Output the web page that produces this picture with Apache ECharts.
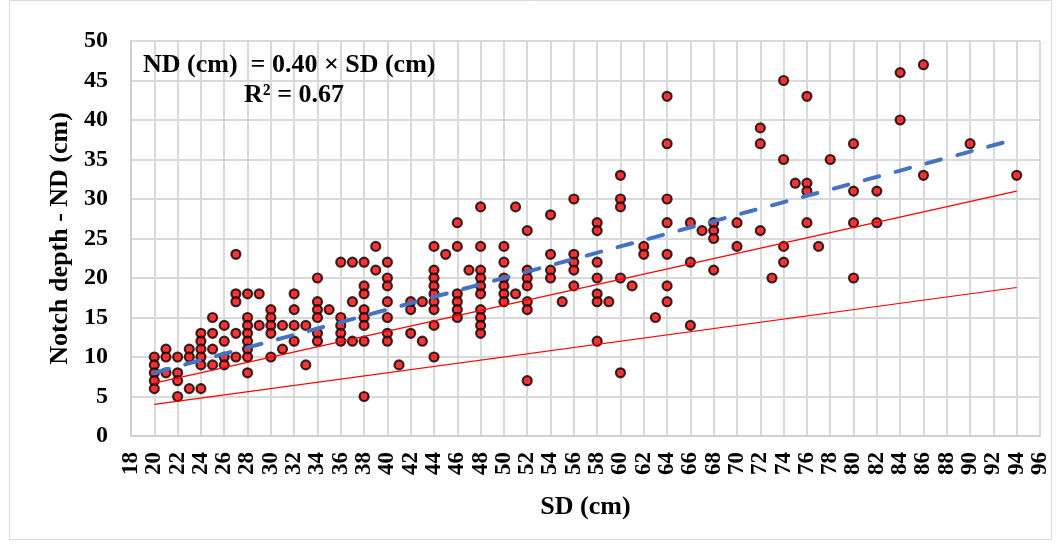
<!DOCTYPE html>
<html>
<head>
<meta charset="utf-8">
<script src="https://cdn.jsdelivr.net/npm/echarts@6/dist/echarts.min.js"></script>
<style>
html,body{margin:0;padding:0;background:#fff;}
#chart{width:1061px;height:548px;}
</style>
</head>
<body>
<div id="chart"></div>
<script>
// SD (cm) values and the ND (cm) values observed at each SD
const sdGroups = [20,21,22,23,24,25,26,27,28,29,30,31,32,33,34,35,36,37,38,39,40,41,42,43,44,45,46,47,48,50,51,52,54,55,56,58,59,60,61,62,63,64,66,67,68,70,72,73,74,75,76,77,78,80,82,84,86,90,94];
const ndGroups = [
  [10,9,8,7,6],[11,10,8],[10,8,7,5],[11,10,6],[13,12,11,10,9,6],[15,13,11,9],[14,12,10,9],
  [23,18,17,13,10],[18,15,14,13,12,11,10,8],[18,14],[16,15,14,13,10],[14,11],[18,16,14,12],
  [14,9],[20,17,16,15,13,12],[16],[22,15,14,13,12],[22,17,12],[22,19,18,16,15,14,12,5],
  [24,21],[22,20,19,17,15,13,12],[9],[17,16,13],[17,12],[24,21,20,19,18,17,16,14,10],[23],
  [27,24,18,17,16,15],[21],[29,24,21,20,19,18,16,15,14,13],[24,22,20,19,18,17],[29,18],
  [26,21,20,19,17,16,7],[28,23,21,20],[17],[30,23,22,21,19],[27,26,22,20,18,17,12],[17],
  [33,30,29,20,8],[19],[24,23],[15],[43,37,30,27,23,19,17],[27,22,14],[26],[27,26,25,21],
  [27,24],[39,37,26],[20],[45,35,24,22],[32],[43,32,31,27],[24],[35],[37,31,27,20],[31,27],
  [46,40],[47,33],[37],[33]
];
// Trend line ND = 0.40 x SD and the two red reference lines
const lineSD = [20, 94];
const trendND = [8.0, 37.6];
const upperND = [6.7, 31.0];
const lowerND = [4.0, 18.8];
const yTicks = {min: 0, max: 50, interval: 5};
const xTicks = {min: 18, max: 96, interval: 2};

const points = [];
sdGroups.forEach((sd, i) => ndGroups[i].forEach(v => points.push([sd, v])));
const pair = arr => lineSD.map((x, i) => [x, arr[i]]);

const font = 'Liberation Serif, Times New Roman, serif';
const chart = echarts.init(document.getElementById('chart'), null, {renderer: 'canvas'});
chart.setOption({
  animation: false,
  backgroundColor: '#fff',
  grid: {left: 131, right: 21, top: 41, bottom: 112, containLabel: false},
  xAxis: {
    type: 'value', min: xTicks.min, max: xTicks.max, interval: xTicks.interval,
    name: 'SD (cm)', nameLocation: 'middle', nameGap: 58,
    nameTextStyle: {fontFamily: font, fontWeight: 'bold', fontSize: 26, color: '#000'},
    axisLine: {show: true, lineStyle: {color: '#d0d0d0', width: 2}},
    axisTick: {show: false},
    axisLabel: {rotate: 90, margin: 16, fontFamily: font, fontWeight: 'bold', fontSize: 23, color: '#000'},
    splitLine: {show: true, lineStyle: {color: '#d9d9d9', width: 2}}
  },
  yAxis: {
    type: 'value', min: yTicks.min, max: yTicks.max, interval: yTicks.interval,
    name: 'Notch depth - ND (cm)', nameLocation: 'middle', nameGap: 58,
    nameTextStyle: {fontFamily: font, fontWeight: 'bold', fontSize: 26, color: '#000'},
    axisLine: {show: true, lineStyle: {color: '#d0d0d0', width: 2}},
    axisTick: {show: false},
    axisLabel: {margin: 23, fontFamily: font, fontWeight: 'bold', fontSize: 24, color: '#000'},
    splitLine: {show: true, lineStyle: {color: '#d9d9d9', width: 2}}
  },
  series: [
    {
      type: 'scatter', data: points, symbol: 'circle', symbolSize: 9, z: 3,
      itemStyle: {color: '#ff0000', borderColor: '#000', borderWidth: 2.2}
    },
    {
      type: 'line', data: pair(upperND), symbol: 'none', z: 4,
      lineStyle: {color: '#ff0000', width: 1.2}
    },
    {
      type: 'line', data: pair(lowerND), symbol: 'none', z: 4,
      lineStyle: {color: '#ff0000', width: 1.2}
    },
    {
      type: 'line', data: pair(trendND), symbol: 'none', z: 5,
      lineStyle: {color: '#4472c4', width: 4, type: [15, 17], cap: 'round'}
    }
  ],
  graphic: [
    {type: 'rect', shape: {x: 9.5, y: 0.5, width: 1042, height: 539}, style: {fill: 'none', stroke: '#d9d9d9', lineWidth: 1}, silent: true},
    {type: 'text', x: 143, y: 65, style: {text: 'ND (cm)  = 0.40 × SD (cm)', font: 'bold 26px ' + font, fill: '#000', verticalAlign: 'middle', align: 'left'}, z: 10},
    {type: 'text', x: 294, y: 95, style: {text: 'R² = 0.67', font: 'bold 26px ' + font, fill: '#000', verticalAlign: 'middle', align: 'center'}, z: 10}
  ]
});
</script>
</body>
</html>
